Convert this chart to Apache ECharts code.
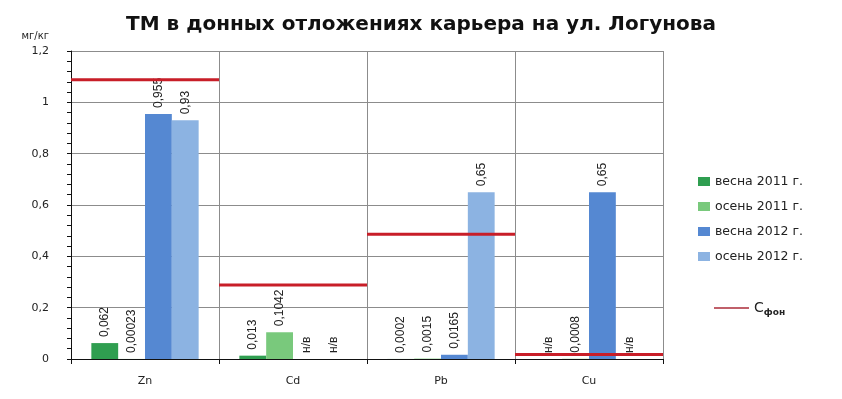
<!DOCTYPE html>
<html>
<head>
<meta charset="utf-8">
<script src="https://cdn.jsdelivr.net/npm/echarts@6/dist/echarts.min.js"></script>
<style>html,body{margin:0;padding:0;background:#fff}#c{width:842px;height:399px}</style>
</head>
<body>
<div id="c"></div>
<script>
var categories = ['Zn', 'Cd', 'Pb', 'Cu'];
var seriesNames = ['весна 2011 г.', 'осень 2011 г.', 'весна 2012 г.', 'осень 2012 г.'];
var spring2011 = [0.062, 0.013, 0.0002, null];
var autumn2011 = [0.00023, 0.1042, 0.0015, 0.0008];
var spring2012 = [0.955, null, 0.0165, 0.65];
var autumn2012 = [0.93, null, 0.65, null];
var background = [1.088, 0.288, 0.486, 0.018];
var yTicks = [0, 0.2, 0.4, 0.6, 0.8, 1.0, 1.2];
var colors = ['#2f9e50', '#79c97c', '#5588d2', '#8cb3e2'];
var lineColor = '#c81e28';

var chart = echarts.init(document.getElementById('c'), null, {renderer: 'canvas'});

function toData(arr) {
  return arr.map(function (v) { return v === null ? {value: 0, na: true} : v; });
}
function fmt(p) {
  if (p.data && p.data.na) return 'н/в';
  return String(p.value).replace('.', ',');
}

var barSeries = [spring2011, autumn2011, spring2012, autumn2012].map(function (arr, i) {
  return {
    name: seriesNames[i],
    type: 'bar',
    data: toData(arr),
    barGap: '0%',
    barCategoryGap: '27.5%',
    itemStyle: {color: colors[i]},
    label: {
      show: true,
      position: 'top',
      rotate: 90,
      align: 'left',
      verticalAlign: 'middle',
      distance: 6,
      fontFamily: 'Liberation Sans',
      fontSize: 12,
      color: '#222',
      formatter: fmt
    }
  };
});

var lineData = [];
background.forEach(function (v, i) {
  if (i > 0) lineData.push('-');
  lineData.push([i, v]);
  lineData.push([i + 1, v]);
});

var option = {
  animation: false,
  backgroundColor: '#fff',
  title: {
    text: 'ТМ в донных отложениях карьера на ул. Логунова',
    left: 'center',
    top: 10,
    textStyle: {fontFamily: 'DejaVu Sans', fontWeight: 'bold', fontSize: 20, color: '#111'}
  },
  grid: {left: 71, right: 179, top: 51, bottom: 40},
  legend: [{
    data: seriesNames,
    orient: 'vertical',
    left: 693,
    top: 170,
    itemWidth: 12,
    itemHeight: 9,
    itemGap: 12,
    icon: 'rect',
    textStyle: {fontFamily: 'DejaVu Sans', fontSize: 12.5, color: '#222'}
  }, {
    data: ['Сфон'],
    left: 709,
    top: 296,
    itemWidth: 35,
    itemHeight: 2,
    icon: 'rect',
    itemStyle: {color: '#c0606a'},
    formatter: function () { return '{c|С}{s|фон}'; },
    textStyle: {
      fontFamily: 'DejaVu Sans', color: '#222',
      rich: {
        c: {fontSize: 14, fontFamily: 'DejaVu Sans', color: '#222'},
        s: {fontSize: 9, fontFamily: 'DejaVu Sans', fontWeight: 'bold', color: '#222', padding: [9, 0, 0, 0]}
      }
    }
  }],
  xAxis: [{
    type: 'category',
    data: categories,
    boundaryGap: true,
    axisLine: {lineStyle: {color: '#111', width: 1}},
    axisTick: {show: true, length: 5, lineStyle: {color: '#111'}},
    axisLabel: {margin: 17, fontFamily: 'DejaVu Sans', fontSize: 11, color: '#222'},
    splitLine: {show: true, lineStyle: {color: '#8c8c8c', width: 1}}
  }, {
    type: 'value',
    min: 0,
    max: 4,
    show: false
  }],
  yAxis: {
    type: 'value',
    min: 0,
    max: 1.2,
    interval: 0.2,
    name: 'мг/кг',
    nameLocation: 'end',
    nameGap: 10,
    nameTextStyle: {fontFamily: 'DejaVu Sans', fontSize: 10, color: '#222', align: 'right', padding: [0, 22, 0, 0]},
    axisLine: {show: true, lineStyle: {color: '#111', width: 1}},
    axisTick: {show: true, length: 4, lineStyle: {color: '#111'}},
    minorTick: {show: true, splitNumber: 5, length: 4, lineStyle: {color: '#111'}},
    axisLabel: {
      margin: 22,
      fontFamily: 'DejaVu Sans',
      fontSize: 11,
      color: '#222',
      formatter: function (v) {
        for (var i = 0; i < yTicks.length; i++) {
          if (Math.abs(yTicks[i] - v) < 1e-9) return String(Math.round(yTicks[i] * 10) / 10).replace('.', ',');
        }
        return '';
      }
    },
    splitLine: {show: true, lineStyle: {color: '#8c8c8c', width: 1}}
  },
  series: barSeries.concat([{
    name: 'Сфон',
    type: 'line',
    xAxisIndex: 1,
    data: lineData,
    symbol: 'none',
    connectNulls: false,
    lineStyle: {color: lineColor, width: 3},
    itemStyle: {color: lineColor},
    z: 5
  }])
};
chart.setOption(option);
</script>
</body>
</html>
